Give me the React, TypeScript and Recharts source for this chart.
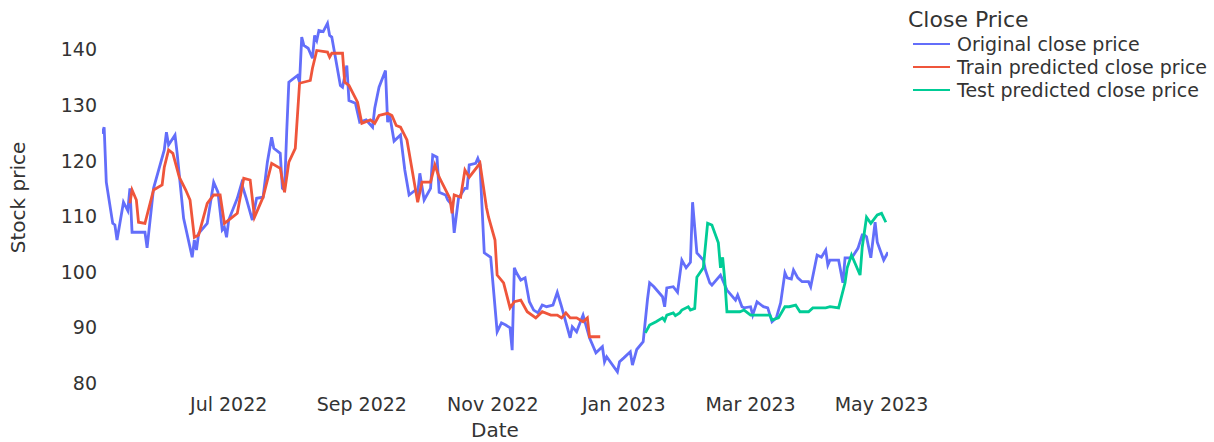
import React from 'react';
import { LineChart, Line, XAxis, YAxis, Legend } from 'recharts';

const originalDates = [
  '2022-05-03','2022-05-04','2022-05-05','2022-05-08','2022-05-09','2022-05-10','2022-05-13','2022-05-15','2022-05-16','2022-05-17',
  '2022-05-23','2022-05-24','2022-05-27','2022-06-01','2022-06-02','2022-06-03','2022-06-06','2022-06-07','2022-06-10','2022-06-14',
  '2022-06-15','2022-06-16','2022-06-17','2022-06-21','2022-06-24','2022-06-26','2022-06-28','2022-06-29','2022-06-30','2022-07-01',
  '2022-07-05','2022-07-07','2022-07-09','2022-07-12','2022-07-14','2022-07-17','2022-07-19','2022-07-21','2022-07-22','2022-07-25',
  '2022-07-26','2022-07-27','2022-07-28','2022-07-29','2022-08-02','2022-08-03','2022-08-04','2022-08-05','2022-08-07','2022-08-09',
  '2022-08-10','2022-08-11','2022-08-12','2022-08-14','2022-08-16','2022-08-17','2022-08-18','2022-08-22','2022-08-23','2022-08-25',
  '2022-08-26','2022-08-29','2022-08-31','2022-09-03','2022-09-06','2022-09-07','2022-09-09','2022-09-12','2022-09-13','2022-09-14',
  '2022-09-16','2022-09-19','2022-09-21','2022-09-23','2022-09-26','2022-09-27','2022-09-28','2022-09-30','2022-10-03','2022-10-04',
  '2022-10-06','2022-10-07','2022-10-10','2022-10-11','2022-10-13','2022-10-14','2022-10-16','2022-10-19','2022-10-20','2022-10-21',
  '2022-10-24','2022-10-25','2022-10-26','2022-10-28','2022-10-31','2022-11-03','2022-11-05','2022-11-07','2022-11-09','2022-11-10',
  '2022-11-11','2022-11-12','2022-11-14','2022-11-16','2022-11-18','2022-11-20','2022-11-22','2022-11-24','2022-11-26','2022-11-29',
  '2022-12-01','2022-12-03','2022-12-07','2022-12-08','2022-12-10','2022-12-13','2022-12-16','2022-12-19','2022-12-22','2022-12-23',
  '2022-12-24','2022-12-29','2022-12-30','2023-01-01','2023-01-04','2023-01-05','2023-01-07','2023-01-10','2023-01-12','2023-01-13',
  '2023-01-15','2023-01-19','2023-01-20','2023-01-21','2023-01-24','2023-01-26','2023-01-28','2023-01-30','2023-02-01','2023-02-02',
  '2023-02-04','2023-02-07','2023-02-08','2023-02-10','2023-02-11','2023-02-15','2023-02-16','2023-02-18','2023-02-22','2023-02-23',
  '2023-02-25','2023-02-26','2023-03-01','2023-03-02','2023-03-04','2023-03-07','2023-03-09','2023-03-11','2023-03-13','2023-03-15',
  '2023-03-17','2023-03-18','2023-03-20','2023-03-21','2023-03-23','2023-03-25','2023-03-28','2023-03-29','2023-04-01','2023-04-03',
  '2023-04-05','2023-04-06','2023-04-07','2023-04-11','2023-04-13','2023-04-14','2023-04-17','2023-04-18','2023-04-20','2023-04-22',
  '2023-04-23','2023-04-24','2023-04-26','2023-04-28','2023-04-29','2023-05-02','2023-05-04',
];
const originalClose = [
  124.8, 126.0, 116.1, 108.7, 108.4, 105.7, 112.5, 111.0, 115.0, 107.1,
  107.1, 104.3, 115.0, 121.9, 125.1, 122.8, 124.6, 121.3, 109.6, 102.6,
  105.7, 103.9, 106.9, 108.7, 116.1, 114.3, 107.5, 108.0, 106.2, 109.3,
  113.2, 115.9, 113.4, 109.3, 113.2, 113.4, 119.7, 124.2, 122.2, 121.3,
  115.0, 114.7, 125.1, 134.1, 135.3, 134.1, 142.2, 140.7, 140.2, 138.4,
  142.5, 141.6, 143.4, 143.2, 144.7, 142.5, 142.2, 133.5, 133.2, 137.1,
  130.8, 130.3, 126.9, 127.3, 126.0, 129.4, 133.2, 136.2, 126.9, 128.1,
  123.5, 124.6, 118.3, 113.8, 114.7, 114.1, 117.7, 112.9, 115.0, 121.0,
  120.6, 114.3, 113.8, 112.9, 112.0, 107.0, 113.2, 115.0, 115.0, 119.2,
  119.5, 120.4, 119.3, 103.4, 102.6, 89.2, 90.8, 90.4, 89.9, 85.9,
  100.7, 99.8, 98.5, 98.9, 94.6, 93.1, 92.6, 94.0, 93.7, 94.0,
  96.3, 93.7, 88.1, 90.1, 89.2, 92.2, 88.1, 85.4, 86.5, 83.8,
  84.7, 82.0, 83.8, 84.5, 85.6, 83.2, 86.0, 87.4, 95.0, 98.0,
  97.3, 95.5, 93.7, 97.1, 97.3, 96.3, 102.1, 100.7, 101.7, 112.5,
  103.4, 102.1, 100.3, 98.0, 97.6, 99.4, 98.5, 96.7, 94.9, 95.8,
  93.7, 93.5, 93.7, 92.2, 94.6, 93.7, 93.5, 91.0, 91.7, 94.4,
  99.8, 98.9, 98.7, 100.3, 98.9, 98.2, 98.2, 97.3, 103.0, 102.6,
  103.9, 101.2, 102.1, 102.1, 98.0, 102.5, 102.5, 103.0, 104.2, 106.6,
  106.6, 106.3, 102.5, 108.9, 105.3, 102.1, 103.5,
];

const trainDates = [
  '2022-05-16','2022-05-17','2022-05-19','2022-05-20','2022-05-23','2022-05-27','2022-05-31','2022-06-01','2022-06-03','2022-06-05',
  '2022-06-08','2022-06-11','2022-06-13','2022-06-15','2022-06-17','2022-06-21','2022-06-24','2022-06-27','2022-06-29','2022-07-02',
  '2022-07-05','2022-07-08','2022-07-11','2022-07-13','2022-07-17','2022-07-21','2022-07-25','2022-07-27','2022-07-29','2022-08-01',
  '2022-08-03','2022-08-08','2022-08-09','2022-08-11','2022-08-16','2022-08-17','2022-08-18','2022-08-23','2022-08-24','2022-08-26',
  '2022-08-30','2022-09-01','2022-09-05','2022-09-07','2022-09-09','2022-09-13','2022-09-15','2022-09-17','2022-09-19','2022-09-22',
  '2022-09-27','2022-09-29','2022-10-03','2022-10-05','2022-10-07','2022-10-12','2022-10-13','2022-10-14','2022-10-17','2022-10-19',
  '2022-10-21','2022-10-26','2022-10-29','2022-10-30','2022-11-02','2022-11-03','2022-11-06','2022-11-09','2022-11-11','2022-11-14',
  '2022-11-17','2022-11-21','2022-11-24','2022-11-28','2022-12-01','2022-12-03','2022-12-05','2022-12-07','2022-12-10','2022-12-13',
  '2022-12-15','2022-12-16','2022-12-21',
];
const trainPredicted = [
  112.3, 114.7, 112.9, 108.9, 108.7, 114.7, 115.6, 118.8, 121.9, 121.3,
  117.0, 114.7, 112.9, 106.2, 106.6, 112.3, 113.8, 113.8, 108.7, 109.6,
  110.5, 116.8, 116.5, 109.8, 113.4, 119.5, 118.6, 114.3, 119.7, 122.2,
  133.9, 134.4, 136.6, 139.8, 139.5, 138.6, 139.3, 139.3, 134.1, 133.5,
  130.5, 126.7, 127.3, 126.7, 128.1, 128.5, 128.1, 126.3, 126.0, 123.7,
  112.5, 116.1, 116.1, 119.2, 117.0, 113.2, 110.5, 113.8, 113.4, 118.3,
  117.0, 119.5, 111.6, 109.8, 105.7, 99.4, 98.0, 93.5, 94.6, 94.9,
  92.8, 91.7, 92.8, 92.2, 92.2, 91.7, 92.6, 91.7, 91.7, 91.0,
  91.7, 88.3, 88.3,
];

const testDates = [
  '2023-01-11','2023-01-13','2023-01-16','2023-01-19','2023-01-20','2023-01-21','2023-01-24','2023-01-25','2023-01-27','2023-01-28',
  '2023-01-31','2023-02-01','2023-02-03','2023-02-04','2023-02-07','2023-02-09','2023-02-11','2023-02-14','2023-02-15','2023-02-16',
  '2023-02-17','2023-02-18','2023-02-24','2023-02-26','2023-03-01','2023-03-04','2023-03-10','2023-03-11','2023-03-14','2023-03-17',
  '2023-03-19','2023-03-22','2023-03-24','2023-03-28','2023-03-30','2023-04-05','2023-04-07','2023-04-11','2023-04-14','2023-04-15',
  '2023-04-17','2023-04-19','2023-04-21','2023-04-22','2023-04-24','2023-04-26','2023-04-29','2023-05-01','2023-05-03',
];
const testPredicted = [
  89.0, 90.4, 91.0, 91.7, 91.2, 92.2, 92.6, 92.1, 92.6, 93.1,
  93.7, 93.1, 93.4, 99.0, 100.7, 108.7, 108.4, 105.2, 100.7, 102.6,
  98.5, 92.8, 92.8, 93.1, 92.2, 92.2, 92.2, 91.3, 91.7, 93.7,
  93.7, 94.0, 92.8, 92.8, 93.5, 93.5, 93.7, 93.5, 98.0, 100.7,
  103.0, 101.2, 99.4, 104.4, 109.8, 108.7, 110.2, 110.5, 108.9,
];

const xTickDates = ['2022-07-01', '2022-09-01', '2022-11-01', '2023-01-01', '2023-03-01', '2023-05-01'];
const xTickLabels = ['Jul 2022', 'Sep 2022', 'Nov 2022', 'Jan 2023', 'Mar 2023', 'May 2023'];
const yTicks = [80, 90, 100, 110, 120, 130, 140];
const seriesNames = ['Original close price', 'Train predicted close price', 'Test predicted close price'];
const seriesColors = ['#636efa', '#ef553b', '#00cc96'];
const legendTitle = 'Close Price';
const xAxisTitle = 'Date';
const yAxisTitle = 'Stock price';

const FONT = '"DejaVu Sans", Verdana, sans-serif';
const TEXT = '#333333';

const toRows = (dates: string[], values: number[]) =>
  dates.map((d, i) => ({ t: Date.parse(d), v: values[i] }));

const originalRows = toRows(originalDates, originalClose);
const trainRows = toRows(trainDates, trainPredicted);
const testRows = toRows(testDates, testPredicted);
const xTickValues = xTickDates.map((d) => Date.parse(d));
const xDomain = [Date.parse(originalDates[0]), Date.parse(originalDates[originalDates.length - 1])];

const XTick = (props: any) => {
  const idx = xTickValues.indexOf(props.payload.value);
  return (
    <text x={props.x} y={props.y} dy={22} textAnchor="middle" fontSize={19} fontFamily={FONT} fill={TEXT}>
      {idx >= 0 ? xTickLabels[idx] : ''}
    </text>
  );
};

const YTick = (props: any) => (
  <text x={props.x - 5} y={props.y} dy={7} textAnchor="end" fontSize={19} fontFamily={FONT} fill={TEXT}>
    {props.payload.value}
  </text>
);

const renderLegend = () => (
  <div style={{ fontFamily: FONT, color: TEXT }}>
    <div style={{ fontSize: 22, lineHeight: '24px', marginLeft: 8, whiteSpace: 'nowrap' }}>{legendTitle}</div>
    {seriesNames.map((n, i) => (
      <div key={n} style={{ display: 'flex', alignItems: 'center', height: 23 }}>
        <svg width={50} height={6} style={{ display: 'block' }}>
          <line x1={13} y1={3} x2={50} y2={3} stroke={seriesColors[i]} strokeWidth={2} />
        </svg>
        <span style={{ marginLeft: 7, fontSize: 19, whiteSpace: 'nowrap' }}>{n}</span>
      </div>
    ))}
  </div>
);

export default function App() {
  return (
    <div style={{ width: 1214, height: 442, background: '#fff', position: 'relative' }}>
      <style>{'body{margin:0;background:#fff;}'}</style>
      <LineChart width={1214} height={442} margin={{ top: 6, right: 326, bottom: 0, left: 0 }}>
        <XAxis
          dataKey="t"
          type="number"
          domain={xDomain}
          ticks={xTickValues}
          tick={XTick}
          axisLine={false}
          tickLine={false}
          tickSize={0}
          tickMargin={0}
          height={53}
          allowDataOverflow
          label={{
            content: (p: any) => {
              const vb = p.viewBox || { x: 102, y: 389, width: 786, height: 53 };
              return (
                <text x={vb.x + vb.width / 2} y={vb.y + 48} textAnchor="middle" fontSize={20} fontFamily={FONT} fill={TEXT}>
                  {xAxisTitle}
                </text>
              );
            },
          }}
        />
        <YAxis
          type="number"
          domain={[78.9, 147.8]}
          ticks={yTicks}
          tick={YTick}
          width={102}
          axisLine={false}
          tickLine={false}
          tickSize={0}
          tickMargin={0}
          allowDataOverflow
          label={{
            content: (p: any) => {
              const vb = p.viewBox || { x: 0, y: 6, width: 102, height: 383 };
              const cx = vb.x + 18;
              const cy = vb.y + vb.height / 2;
              return (
                <text
                  x={cx}
                  y={cy}
                  dy={7}
                  transform={`rotate(-90 ${cx} ${cy})`}
                  textAnchor="middle"
                  fontSize={20}
                  fontFamily={FONT}
                  fill={TEXT}
                >
                  {yAxisTitle}
                </text>
              );
            },
          }}
        />
        <Legend layout="vertical" align="center" verticalAlign="middle" wrapperStyle={{ left: 900, top: 8, width: 314 }} content={renderLegend} />
        <Line data={originalRows} dataKey="v" name={seriesNames[0]} type="linear" stroke={seriesColors[0]} strokeWidth={2.8} dot={false} activeDot={false} isAnimationActive={false} />
        <Line data={trainRows} dataKey="v" name={seriesNames[1]} type="linear" stroke={seriesColors[1]} strokeWidth={2.8} dot={false} activeDot={false} isAnimationActive={false} />
        <Line data={testRows} dataKey="v" name={seriesNames[2]} type="linear" stroke={seriesColors[2]} strokeWidth={2.8} dot={false} activeDot={false} isAnimationActive={false} />
      </LineChart>
    </div>
  );
}
